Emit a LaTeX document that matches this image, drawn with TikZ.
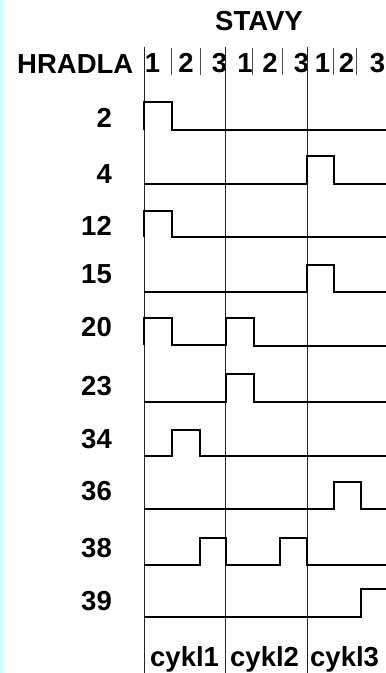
\documentclass[tikz,border=0pt]{standalone}
\usepackage{fontspec}
\setmainfont{Liberation Sans}
\definecolor{stripcyan}{RGB}{204,255,255}

\tikzset{
  sig/.style={line width=2pt, line join=miter},
  gridline/.style={line width=0.9pt, black!85},
  sepbar/.style={line width=0.8pt, black!70},
  txt/.style={inner sep=0pt, font=\bfseries\fontsize{27.5}{32}\selectfont},
}

\begin{document}
\begin{tikzpicture}[x=1pt, y=-1pt]
  \useasboundingbox (0,0) rectangle (386,673);
  \fill[stripcyan] (0,0) rectangle (3.5,673);

  % header
  \node[txt, anchor=base] (stavy) at (259,30) {STAVY};
  \node[txt, anchor=base west] (hradla) at (17,73) {HRADLA};
  \foreach \d/\x [count=\i] in {1/152.5,2/186,3/219.5,1/245,2/270,3/301.5,1/322.5,2/346.5,3/377.5}
    \node[txt, anchor=base] (st\i) at (\x,72) {\d};
  \foreach \x in {171.7,200,252.7,282.3,333.3,356.7}
    \draw[sepbar] (\x,48) -- (\x,75);

  % cycle borders
  \foreach \x in {144,225.5,307}
    \draw[gridline] (\x,47) -- (\x,673);

  % gate numbers
  \foreach \g/\yy [count=\i] in {2/127,4/183,12/235,15/283,20/336,23/395,34/448,36/500,38/557,39/610}
    \node[txt, anchor=base east] (g\i) at (112,\yy) {\g};

  % signals
  \draw[sig] (144,130) -- (144,102) -- (172,102) -- (172,130) -- (386,130);
  \draw[sig] (144,184) -- (307,184) -- (307,156) -- (334,156) -- (334,184) -- (386,184);
  \draw[sig] (144,237) -- (144,211) -- (172,211) -- (172,237) -- (386,237);
  \draw[sig] (144,292) -- (307,292) -- (307,265) -- (334,265) -- (334,292) -- (386,292);
  \draw[sig] (144,345) -- (144,318) -- (172,318) -- (172,345) -- (225.5,345)
             -- (225.5,318) -- (254,318) -- (254,346) -- (386,346);
  \draw[sig] (144,402) -- (225.5,402) -- (225.5,374) -- (254,374) -- (254,402) -- (386,402);
  \draw[sig] (144,456) -- (172,456) -- (172,430) -- (200,430) -- (200,456) -- (386,456);
  \draw[sig] (144,509) -- (334,509) -- (334,482) -- (361,482) -- (361,509) -- (386,509);
  \draw[sig] (144,565) -- (200,565) -- (200,538) -- (225.5,538) -- (225.5,565) -- (280,565)
             -- (280,538) -- (307,538) -- (307,565) -- (386,565);
  \draw[sig] (144,617) -- (361,617) -- (361,589) -- (386,589);

  % cycles
  \foreach \c/\x in {1/150,2/230,3/310}
    \node[txt, anchor=base west] (cykl\c) at (\x,666) {cykl\c};
\end{tikzpicture}
\end{document}
